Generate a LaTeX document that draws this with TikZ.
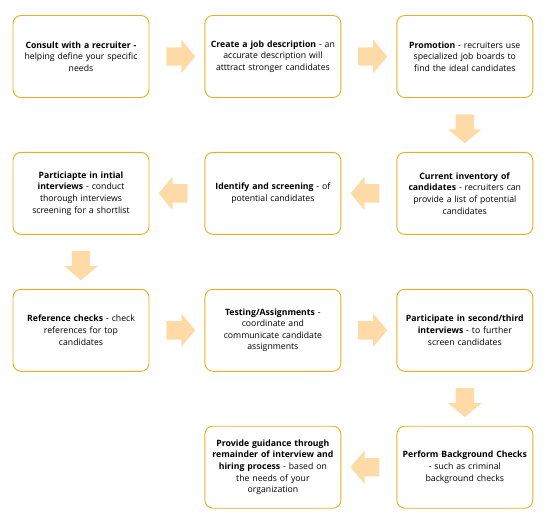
\documentclass[tikz,border=0pt]{standalone}
\usepackage{fontspec}
\setmainfont{Open Sans}
\usetikzlibrary{positioning,shapes.arrows,calc}

\definecolor{boxline}{RGB}{236,174,28}
\definecolor{arrowfill}{RGB}{254,219,166}

\tikzset{
  stepbox/.style={draw=boxline, line width=0.9pt, rounded corners=8pt, fill=white,
    minimum width=136pt, minimum height=82pt, text width=130pt, align=center,
    inner sep=0pt, font=\fontsize{8.7}{11.6}\selectfont},
  fat/.style={single arrow, fill=arrowfill, draw=none, inner xsep=0pt, inner ysep=9pt,
    minimum height=29pt, single arrow head extend=7.5pt, single arrow tip angle=100},
  fatdown/.style={fat, shape border rotate=270, inner xsep=9pt, inner ysep=0pt}
}

\begin{document}
\begin{tikzpicture}[x=1pt, y=-1pt, node distance=54pt and 55pt]
        \useasboundingbox (0,0) rectangle (550,519);

        \node [stepbox] (1) at (81,56.5) {\textbf{Consult with a recruiter -}\\ helping define your specific\\ needs};
        \node [stepbox, right=of 1] (2) {\textbf{Create a job description} - an\\ accurate description will\\ atttract stronger candidates};
        \node [stepbox, right=of 2] (3) {\textbf{Promotion} - recruiters use\\ specialized job boards to\\ find the ideal candidates};
        \node [stepbox, below=of 3] (4) {\textbf{Current inventory of}\\ \textbf{candidates} - recruiters can\\ provide a list of potential\\ candidates};
        \node [stepbox, left=of 4] (5) {\textbf{Identify and screening} - of\\ potential candidates};
        \node [stepbox, left=of 5] (6) {\textbf{Particiapte in intial}\\ \textbf{interviews} - conduct\\ thorough interviews\\ screening for a shortlist};
        \node [stepbox, below=of 6] (7) {\textbf{Reference checks} - check\\ references for top\\ candidates};
        \node [stepbox, right=of 7] (8) {\textbf{Testing/Assignments} -\\ coordinate and\\ communicate candidate\\ assignments};
        \node [stepbox, right=of 8] (9) {\textbf{Participate in second/third}\\ \textbf{interviews} - to further\\ screen candidates};
        \node [stepbox, below=of 9] (10) {\textbf{Perform Background Checks}\\ - such as criminal\\ background checks};
        \node [stepbox, left=of 10] (11) {\textbf{Provide guidance through}\\ \textbf{remainder of interview and}\\ \textbf{hiring process} - based on\\ the needs of your\\ organization};

        \node [fat] (a1) at ($(1.east)!0.5!(2.west)$) {};
        \node [fat] (a2) at ($(2.east)!0.5!(3.west)$) {};
        \node [fatdown] (a3) at ($(3.south)!0.5!(4.north)$) {};
        \node [fat, shape border rotate=180] (a4) at ($(4.west)!0.5!(5.east)$) {};
        \node [fat, shape border rotate=180] (a5) at ($(5.west)!0.5!(6.east)$) {};
        \node [fatdown] (a6) at ($(6.south)!0.5!(7.north)$) {};
        \node [fat] (a7) at ($(7.east)!0.5!(8.west)$) {};
        \node [fat] (a8) at ($(8.east)!0.5!(9.west)$) {};
        \node [fatdown] (a9) at ($(9.south)!0.5!(10.north)$) {};
        \node [fat, shape border rotate=180] (a10) at ($(10.west)!0.5!(11.east)$) {};
      \end{tikzpicture}
\end{document}
